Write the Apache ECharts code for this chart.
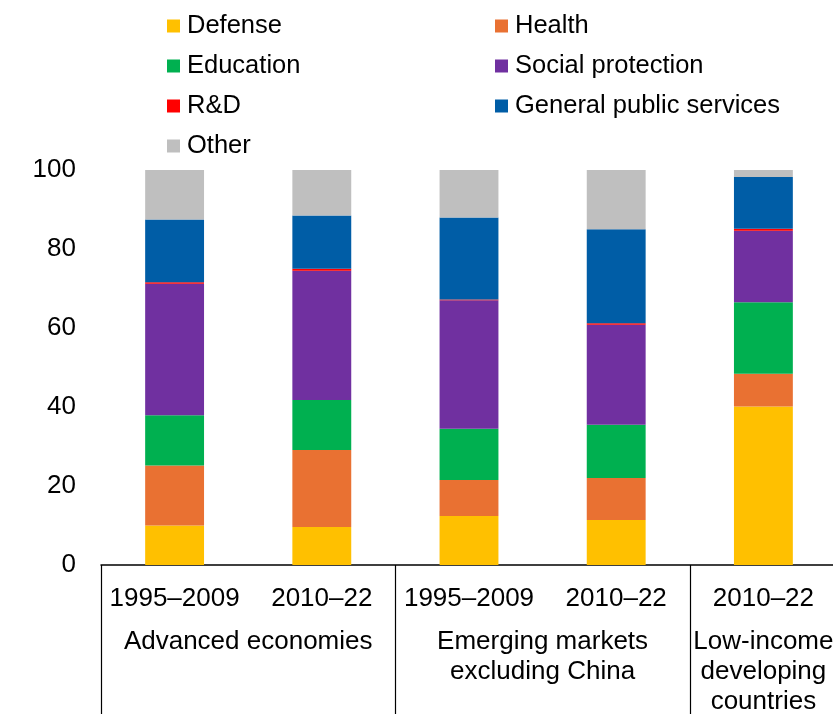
<!DOCTYPE html>
<html>
<head>
<meta charset="utf-8">
<style>
  html, body { margin: 0; padding: 0; background: #ffffff; }
  #chart { width: 833px; height: 714px; }
</style>
<script src="https://cdn.jsdelivr.net/npm/echarts@6/dist/echarts.min.js"></script>
</head>
<body>
<div id="chart"></div>
<script>
// Periods shown under each bar, and the country groups they belong to
const periods = ['1995–2009', '2010–22', '1995–2009', '2010–22', '2010–22'];
const groups = [
  { name: 'Advanced economies', from: 0, to: 1 },
  { name: 'Emerging markets\nexcluding China', from: 2, to: 3 },
  { name: 'Low-income\ndeveloping\ncountries', from: 4, to: 4 }
];

// Composition of spending, percent of total
const defense       = [10.0,  9.6, 12.4, 11.4, 40.1];
const health        = [15.2, 19.5,  9.1, 10.6,  8.3];
const education     = [12.7, 12.7, 13.0, 13.5, 18.1];
const socialProt    = [33.3, 32.7, 32.5, 25.3, 18.1];
const rnd           = [ 0.4,  0.5,  0.2,  0.4,  0.5];
const generalPublic = [15.9, 13.5, 20.8, 23.8, 13.1];
const other         = [12.5, 11.5, 12.0, 15.0,  1.8];

const yTicks = [0, 20, 40, 60, 80, 100];

const FONT = '"Liberation Sans", Arial, sans-serif';

const seriesDefs = [
  { name: 'Defense', data: defense, color: '#FFC000' },
  { name: 'Health', data: health, color: '#E97132' },
  { name: 'Education', data: education, color: '#00B050' },
  { name: 'Social protection', data: socialProt, color: '#7030A0' },
  { name: 'R&D', data: rnd, color: '#FF0000' },
  { name: 'General public services', data: generalPublic, color: '#005DA6' },
  { name: 'Other', data: other, color: '#BFBFBF' }
];

const legendCommon = {
  orient: 'vertical',
  top: 8,
  itemWidth: 13,
  itemHeight: 13,
  itemGap: 14,
  icon: 'rect',
  selectedMode: false,
  textStyle: { fontFamily: FONT, fontSize: 25.5, color: '#000', lineHeight: 24, padding: [0, 0, 0, 2] }
};

const chart = echarts.init(document.getElementById('chart'), null, { renderer: 'canvas' });

const option = {
  animation: false,
  backgroundColor: '#ffffff',
  color: seriesDefs.map(s => s.color),
  legend: [
    Object.assign({}, legendCommon, { left: 162, data: ['Defense', 'Education', 'R&D', 'Other'] }),
    Object.assign({}, legendCommon, { left: 490, data: ['Health', 'Social protection', 'General public services'] })
  ],
  grid: { left: 101, width: 736, top: 170, bottom: 149, containLabel: false, outerBoundsMode: 'none' },
  xAxis: {
    type: 'category',
    data: periods,
    axisLine: { show: true, lineStyle: { color: '#000', width: 1.5 } },
    axisTick: {
      show: true,
      interval: (index) => groups.some(g => g.from === index),
      length: 150,
      lineStyle: { color: '#000', width: 1.2 }
    },
    axisLabel: { interval: 0, margin: 21, fontFamily: FONT, fontSize: 26, color: '#000' }
  },
  yAxis: {
    type: 'value',
    min: yTicks[0],
    max: yTicks[yTicks.length - 1],
    interval: yTicks[1] - yTicks[0],
    axisLine: { show: false },
    axisTick: { show: false },
    splitLine: { show: false },
    axisLabel: { margin: 25, fontFamily: FONT, fontSize: 26, color: '#000' }
  },
  series: seriesDefs.map(s => ({
    name: s.name,
    type: 'bar',
    stack: 'total',
    barWidth: '40%',
    data: s.data,
    itemStyle: { color: s.color }
  }))
};

chart.setOption(option);

// Group names centred under the bars of each group
const groupLabels = groups.map(g => {
  const x0 = chart.convertToPixel({ xAxisIndex: 0 }, g.from);
  const x1 = chart.convertToPixel({ xAxisIndex: 0 }, g.to);
  const y0 = chart.convertToPixel({ yAxisIndex: 0 }, 0);
  return {
    type: 'text',
    x: (x0 + x1) / 2,
    y: y0 + 62,
    style: {
      text: g.name,
      fill: '#000',
      font: '26px ' + FONT,
      lineHeight: 30,
      textAlign: 'center',
      textVerticalAlign: 'top'
    }
  };
});

chart.setOption({ graphic: groupLabels });
</script>
</body>
</html>
